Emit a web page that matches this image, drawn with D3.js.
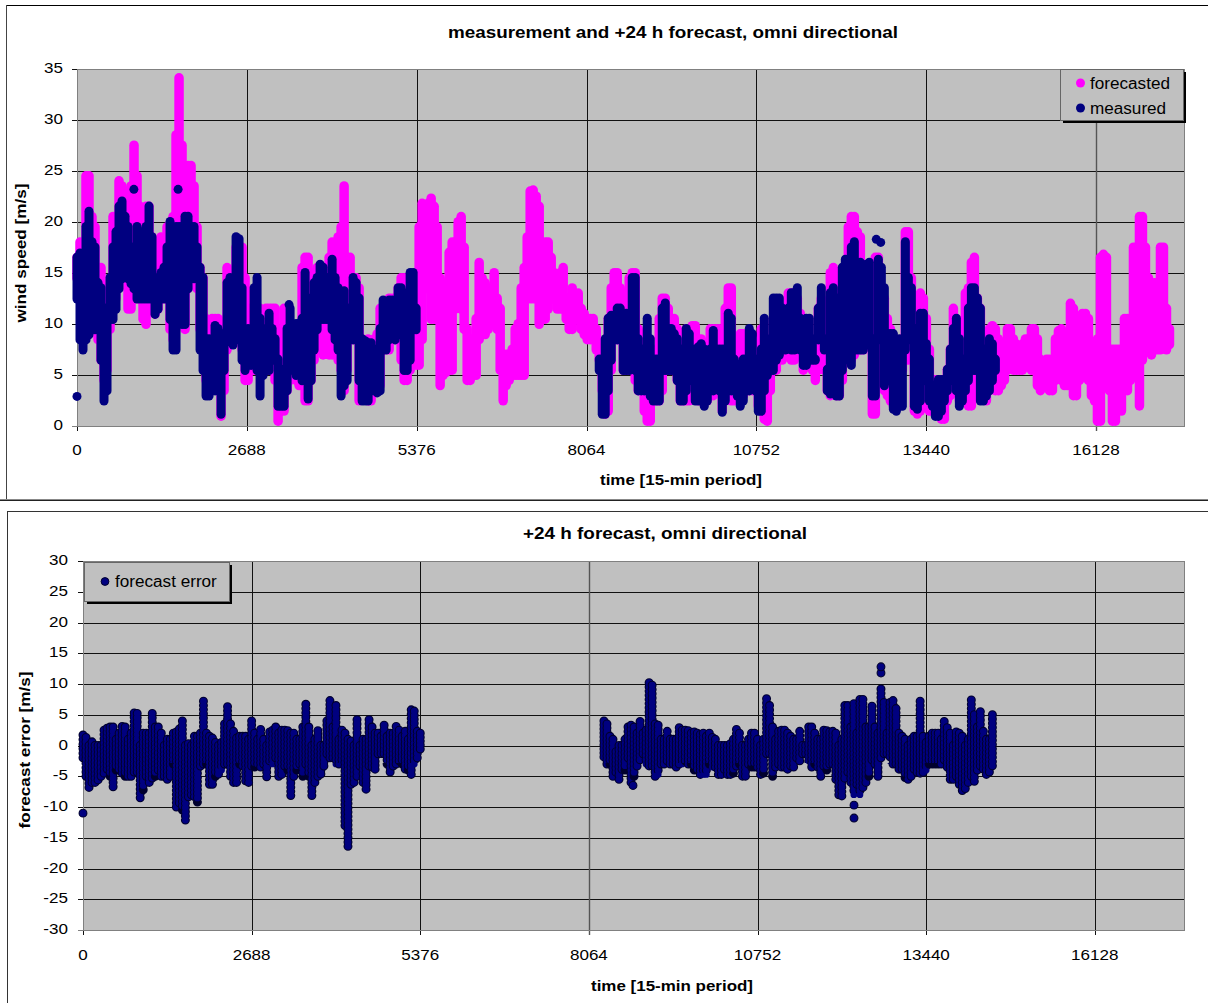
<!DOCTYPE html>
<html><head><meta charset="utf-8">
<script src="https://cdn.jsdelivr.net/npm/d3@7"></script>
<style>html,body{margin:0;padding:0;background:#fff}svg{display:block}text{font-family:"Liberation Sans",Arial,sans-serif;fill:#000}</style>
</head><body><svg id="c" width="1208" height="1003"></svg>
<script>
const STEP_SPEED = 47.5; // periods between read columns, upper chart
const STEP_ERROR = 48;   // periods between read columns, lower chart
const xTicks = [0,2688,5376,8064,10752,13440,16128];
const speedTicks = [0,5,10,15,20,25,30,35];
const errorTicks = [-30,-25,-20,-15,-10,-5,0,5,10,15,20,25,30];

const forecastHigh = [17,18.5,18.5,25,25,21,20,16,16,14,12,14,21,21,24.5,24,23.5,18,24,28,25,22,21,22,22,19,15,16,19,17,20,20,21,29,34.6,28,23,26,26,24,20,16,15,11,10,11,11,11,10,9,16,15,12,18,18,18,15,12,10,10,12,12,11,12,12,12,12,10,8,12,11,10,9,9,9,16,17,17,12,15.5,16,16,15,14,17,18.5,18,19,20,24,17,17,15,15,14,9,8,9,8,9,9.5,12,12,12.5,13,13,13,14,15,15,14.5,14,15,12,
20,22.3,22,22.3,22.8,22,20,15,14.5,9,17.5,18.5,18.5,20.5,21,18,10,9,9,11,16.5,15,14.5,14,14,15.5,13,12,7.5,7.5,7.5,8,10,10.5,14,16,19,23.5,23.6,23,22,17,18.5,18.5,17,15.5,15,15.5,16,13,13,14,13,13.5,12,11.5,11,11,11,10,8,7,6,
11,14,15.5,15.5,14,13,10,15,15.5,15.5,10,8,7,8,8,7,8,11,13,13,12,11,11,10,8,8,10,10,10.3,10.3,9,9,8,8,10,10,10,10,9,12,14,14,7,6,9.5,9.5,7,9,9,8,7,10,8,7,9,11,11,11,12,12,13.5,
13.5,13.5,13,11.5,11,10,9,7,7,12,13,8,9,15.5,16,14.5,14,13,14,20,21,21,19.5,19,15,14,12,12,17,17,12,13,11,10,9,8,8,9,19.5,19.5,15,13,13,13.5,13,11,8,5,5,4.5,5,5,6,8,12,11,10,10,13.5,14,16.5,17,13,12,9,9,10,10.3,10,9,6,7.5,10,10,9,8.5,8,8.5,9,9,10,10,9,7,6,7,7,6,9,9.8,10,9,9,12.5,12,11,11,11.5,11.5,11,8,7,9,17,17.3,17,8,8,8,8,8,11,11,10,18,18,21,21,18,15,14,14.5,14,18,18,12,10];
const forecastLow = [14,13,13,13,12,13,9,8,6,4,5,9,11,12,14,14,15,11,11,13,12,12,10,9.5,11,12,10.5,11,12,12,12,9,8,10,11,10,9,13,14,15,13,9,8,4,3,3,4,3,0.5,3,7,8,8,8,8,7,4,4,5,5,6,7,6,5,5,7,4,0,1,1,3,4,5,4,3.5,3.5,2,2,4,6,7,7,6.5,7,6.5,6.5,7,6,5,3,5,8,8,8,2,2.5,3,2,2,3,3,3.5,7,7,7,8,8,8,6,4,4,5,8,5.5,
5.5,8,13,13,10,10,10,3.5,4.5,4.8,5,5,11,12,11,9,4,4,4.5,4.5,8,9,8.5,9,9.5,10,9,5,2,3.5,4,4.5,4.5,4.5,4.5,4.5,12,12,12,12,9.5,10,10,11,12,13,11,11,11,10,9,9,10,10,9,8.5,8,8,8,7,6,3,0.7,
1,5,8,8,8,5,5,5,5,4,3,3,1,0,0,2,2,2,3,5,5,5,5,4,2,2,2,2,3,2.5,2,2,2,2,3,2.5,4,3,1,3,3,2,2,2,2,2.5,3,3,3,3,1.5,1,0.2,0,3,5,5,6,6,6.5,7,
6,6,7,7,5,6,5.5,5,4,5,6,5,3,2.5,3,2.5,2.5,4,6,6,6,6.5,7,7,7,8,8,0.7,0.7,5,5,3,2.5,2,1.5,1.5,3,5,6,6,8,1,0.7,1,4,4,1,1,1.5,0.7,0.2,0.2,2,2.5,3,3,2,2,2,1.5,1.5,3,5,5.5,2.5,2,3,3.5,3,3,3.5,4,5,6,5,5,5,5,6,6,5,5,3.5,3,3.5,3.5,3,3,4,5,4,3.5,3.5,4,2.5,2.5,4,5,5,4,2.5,2,0,0,4,5,3,0,0,2,1,3,3,4,5.5,8,1.5,6,7,7,6.5,7,7,7,7.5,7,7.5];

const measuredStartA = 0;
const measuredHighA = [17,17.4,17.3,20,21.5,18.5,18,14.5,14,12,12,15,18,19.5,22,22.5,21,20,18,18,20,19.5,18,20,22,19,15,14,15.5,16,18,20.5,19,20,20,20,21,21,20,20,18,16,15,9,9,8,10.3,10,9.5,9,14.5,15,12,19,18.8,14,9,10,9,14,15,11,9,10,11.5,10,9,7,6,5,10,12,10,10.5,10.5,11,15.5,11,13,14.5,15,16.3,16,15,15,16.8,15,14,13,13.7,12,12,15,14.5,13,9,8.8,8.6,8.6,8,7,10,12.8,12.5,12.8,12.8,12,14,14,13,13.5,15.5,15.5,12];
const measuredLowA = [12,8,7,8,8.5,12,9,9,6,2,3,10,10,11,13,14,16,14,13.5,13,12,12,12,12,12,12,10.5,11,12,12,12,10,7,7,11,9.5,9.5,13,14,14,14,7,5,2.5,2.5,3,3,3,0.7,5,8,7.8,7.5,8,8,6,5,5.5,5.5,6,5,2.5,4.5,5,5,6,6,1.5,1.5,1.5,3,5,5.5,4.5,6,4,4,2.2,4,7,9,10,10,10,10,9,8,7,2.5,3.5,4,8,8,8,4,2,2,2,3,4,2.8,3,7,7,8,9,8,8.5,8.5,5,5,6,9,9];
const measuredStartB = 174;
const measuredHighB = [7,7,9,11,11.3,10.5,12,12,11,11.5,11.5,15,15,9,8,8,11,9,7,7,7,12,12.5,10,10,9.5,9,8,8,10,9.5,7.5,8,8.2,8.5,8,6,8,9.8,8,8,8,8,11.5,11,7,6.5,6.5,7,7,10,9.5,7,6,8,11,8,9,13,13,13,12,11,12,13.5,13.5,14,11,9,11,11,9,7,12,14,9,6,13.5,14,13,13,16,16.8,14,18,18.5,16,16.5,16,16.3,16.5,9,9,16.8,16,14,9.5,9.5,9.5,8,9,8,18.5,15,14,10,10,11.5,11.5,8.5,7,4,4.5,5,5,5,6,8,10,11,9,7,7,12,14,14,13,12,8,8,9,8.5,7];
const measuredLowB = [5,0.7,0.7,3,6,8,8,8,5,5,5,7,5,3,3,3,3,2.5,2,2,2,5,5,5,5,5,4,2,2,3,4,4,2,2,2,1.5,2,3,3,4,3,0.9,2,3,3,3,2.5,1.5,2,3,3,4,3,1,1,3,4.5,5,5,6,6.5,7,7,8,7,7,8,7,5.5,5.5,6,6,6,8,8,7,3,2.7,3,2.5,2.5,5,7,6,5.5,7,7,7,7,7.5,8,2.5,2.5,8,8,3.5,4,4,1.2,1,1.5,1.5,7,8,8,1.5,1.2,2,4,4,2,1.5,0.5,0.5,1,2,3,4,5,3,1.5,2,3,4,5,5,5,2,2,2.5,3,4,5];
const loneSpeedTime = [0,900,1600,3356,12650,12720];
const loneSpeedValue = [2.9,23.2,23.2,11.9,18.3,18];

const errorStartA = 0;
const errorHighA = [1.7,1.3,0,0.6,0,0,0,2.5,2.8,3,3,1,2,3.1,3,1,2,5.3,5.2,0,2,2,2,5.2,3,3,2,0,1,1,2,2.2,2.7,4,0,0.3,0,1.5,1.5,2,7.2,2,1.5,1.2,0.5,0,0.5,3.5,6.3,3.5,2.3,1.2,1.5,1.5,1.5,1,4,2,1,2.6,1,0,2.2,2.5,3,2,2.5,2.5,2.4,2,2,1,1,3,6.7,3,0,1,2.4,0,0,4,7.3,3,6.5,1,2.5,2,1,0.7,0,4.2,0,1,1,4.2,3,2,2,1.5,3.3,1.5,2,2,3.1,2.5,1.5,2.3,1,5.8,5.6,2.3,2];
const errorLowA = [-2,-5,-7.5,-6,-6,-6.3,-5,-4.5,-4.5,-5,-6.7,-4,-4.5,-4.5,-5,-5,-5,-5,-5,-8.5,-7.2,-5,-6,-6,-5,-4,-5,-5,-5.5,-5,-3,-10,-10,-10.5,-12.8,-9,-8,-9,-9.2,-4,-3,-3,-7,-7,-5,-5.3,-4,-3,-3,-5,-6,-6,-3,-4,-6.4,-6,-4,-3.5,-3,-3.5,-3,-5.8,-2.5,-3,-2,-5,-4.7,-4,-4,-8.8,-5,-4,-3,-5,-3,-5,-8.8,-6,-5,-5.3,-4,-2,-2,-2,-3,-3,-3,-13,-16.4,-7,-6,-5,-4,-6,-7.1,-4,-3.5,-4.5,-2,-2,-2,-3,-4.3,-4,-3,-2.5,-3,-4.5,-4,-4.7,-3,-2,-1.2];
const errorStartB = 173;
const errorHighB = [4,3.5,1.5,1,-1,0,0,1,3,3.3,3,2,3.9,2,2.5,10.2,9.8,3.5,3.3,1,1,2.3,1,1,1,2.9,2.5,2.5,2.4,2,2.2,2,1.8,2,1.5,2,1.3,1,0,0,0,0,0.3,1,2.6,2,0,0,1,2,2,1,0,1,7.6,6.5,3,1,2.3,2.5,2.5,2,1.5,1,1,2.3,0,0,3,3,2,1,1,2.5,2.4,2.2,2.3,2,0,1,6.5,6.5,3,6.8,2,7.5,7.5,3,3,6.4,3,2,9.2,7,2,7,7.3,6,2,1.5,1,0,1,1.5,1.5,7.2,1.5,0.5,1.5,2,2,2,1,3.9,2.9,2,0,2.2,2,1.5,0,1,7.4,5,3,5.5,2.3,1,1,5,2.5];
const errorLowB = [-2.5,-3,-3,-5,-5,-5.5,-4.5,-4,-2,-6,-5,-4,-3,-2,-3,-4,-4,-5,-4.7,-3,-3,-2.5,-3,-3,-3.5,-3,-3,-2.5,-3,-3,-4,-4.5,-4.7,-4.7,-4.7,-3,-3.5,-3.5,-4.7,-4.7,-4.5,-4.7,-4.7,-4.5,-4,-3,-5.7,-5.7,-3,-3.5,-3.5,-3.5,-4.7,-4.5,-2,-2,-5,-3.5,-3,-3.5,-3.5,-4.5,-4,-3.5,-2,-2.5,-2,-2,-2.5,-3.5,-3,-3.5,-5,-4,-4,-3,-3,-5.5,-8,-8.2,-6,-5,-6,-8,-7,-8,-7.5,-6,-5,-3,-3,-5,-2,-2,-2,-2.5,-3,-3,-4.5,-4.5,-5.2,-5.5,-5,-4.5,-5,-4.5,-5,-4,-3,-3,-3,-3,-3,-3,-3.5,-5.5,-5.5,-5,-7,-8,-7.7,-6,-5,-6.5,-4,-4,-4.5,-4.7,-4.3,-4];
const loneErrorTime = [0,8767,12290,12290,12720,12720];
const loneErrorValue = [-11,-6.5,-9.7,-11.8,11.8,12.8];

const svg = d3.select('#c');
const NAVY = '#000080', PINK = '#ff00ff', OUTLINE = '#00002e';

// stretch real text to the wider set width of the original
function stretch(sel,factor,target){
  sel.each(function(){
    const w = target || this.getComputedTextLength()*factor;
    d3.select(this).attr('textLength',w).attr('lengthAdjust','spacingAndGlyphs');
  });
  return sel;
}

function frame(x,y,w,h,col){ svg.append('rect').attr('x',x+.5).attr('y',y+.5).attr('width',w).attr('height',h).attr('fill','#fff').attr('stroke',col).attr('stroke-width',1); }
frame(6,5,1204,494,'#000');
svg.append('rect').attr('x',6).attr('y',5).attr('width',1).attr('height',494).attr('fill','#444');
svg.append('rect').attr('x',0).attr('y',499).attr('width',1208).attr('height',1).attr('fill','#888');
svg.append('rect').attr('x',0).attr('y',500).attr('width',1208).attr('height',1).attr('fill','#222');
frame(7,511,1203,494,'#333');

function plot(o){
  const x = d3.scaleLinear().domain([0,o.xMax]).range([o.left,o.right]);
  const y = d3.scaleLinear().domain(o.yDom).range([o.bottom,o.top]);
  const g = svg.append('g');
  g.append('rect').attr('x',o.left).attr('y',o.top).attr('width',o.right-o.left).attr('height',o.bottom-o.top).attr('fill','#c0c0c0');
  g.selectAll('.gy').data(o.yTicks).join('line').attr('x1',o.left-5).attr('x2',o.right)
    .attr('y1',d=>Math.round(y(d))+.5).attr('y2',d=>Math.round(y(d))+.5).attr('stroke',d=>d===o.yDom[0]?'#808080':'#111').attr('stroke-width',1);
  g.selectAll('.gx').data(xTicks).join('line').attr('x1',d=>Math.round(x(d))+.5).attr('x2',d=>Math.round(x(d))+.5)
    .attr('y1',o.top).attr('y2',o.bottom+5).attr('stroke',d=>d===o.greyTick?'#555':'#111').attr('stroke-width',d=>d===o.greyTick?1.4:1);
  g.append('rect').attr('x',o.left+.5).attr('y',o.top+.5).attr('width',o.right-o.left).attr('height',o.bottom-o.top).attr('fill','none').attr('stroke','#808080').attr('stroke-width',1);
  stretch(g.selectAll('.ly').data(o.yTicks).join('text').attr('x',o.tickRight).attr('y',d=>y(d)+4.2).attr('text-anchor','end').attr('font-size',15.5).attr('fill','#1a1a1a').text(d=>d),1.1);
  stretch(g.selectAll('.lx').data(xTicks).join('text').attr('x',d=>x(d)).attr('y',o.bottom+o.xLabelDy).attr('text-anchor','middle').attr('font-size',15.5).attr('fill','#1a1a1a').text(d=>d),1.1);
  stretch(svg.append('text').attr('x',o.titleX).attr('y',o.titleY).attr('text-anchor','middle').attr('font-size',17).attr('font-weight','bold').text(o.title),1,o.titleW);
  stretch(svg.append('text').attr('x',o.xtX).attr('y',o.xtY).attr('text-anchor','middle').attr('font-size',15).attr('font-weight','bold').text('time [15-min period]'),1,162);
  stretch(svg.append('text').attr('transform',`translate(${o.ytX},${o.ytY}) rotate(-90)`).attr('text-anchor','middle').attr('font-size',15).attr('font-weight','bold').text(o.yTitle),1,o.ytW);
  return {x,y,g};
}

const p1 = plot({left:77,right:1184,top:69,bottom:426,xMax:17520,yDom:[0,35],yTicks:speedTicks,greyTick:16128,xLabelDy:29,tickRight:63,
  title:'measurement and +24 h forecast, omni directional',titleX:673,titleY:38,titleW:450,xtX:681,xtY:484.5,ytX:26,ytY:253,ytW:139,yTitle:'wind speed [m/s]'});
const p2 = plot({left:83,right:1184,top:561,bottom:930,xMax:17550,yDom:[-30,30],yTicks:errorTicks,greyTick:8064,xLabelDy:30,tickRight:68,
  title:'+24 h forecast, omni directional',titleX:665,titleY:539,titleW:284,xtX:672,xtY:990.5,ytX:30,ytY:750,ytW:157,yTitle:'forecast error [m/s]'});

const col = d3.line();
function columns(p,hi,lo,start,step,r){
  return hi.map((h,i)=>{
    const X = p.x((start+i)*step);
    let a=p.y(h)+r, b=p.y(lo[i])-r;
    if(b<a){a=b=(a+b)/2;}
    return [[X,a],[X,b]];
  });
}
function solid(p,hi,lo,start,color,w){
  p.g.selectAll(null).data(columns(p,hi,lo,start,STEP_SPEED,w/2)).join('path')
    .attr('d',col).attr('fill','none').attr('stroke',color).attr('stroke-width',w).attr('stroke-linecap','round');
}
solid(p1,forecastHigh,forecastLow,0,PINK,9.5);
solid(p1,measuredHighA,measuredLowA,measuredStartA,NAVY,9);
solid(p1,measuredHighB,measuredLowB,measuredStartB,NAVY,9);
p1.g.selectAll(null).data(loneSpeedTime).join('circle').attr('cx',d=>p1.x(d)).attr('cy',(d,i)=>p1.y(loneSpeedValue[i])).attr('r',4.5).attr('fill',NAVY);

function scaled(p,hi,lo,start){
  columns(p,hi,lo,start,STEP_ERROR,0).forEach(c=>{
    const d = col(c), len = c[1][1]-c[0][1];
    const gap = len>0 ? len/Math.max(1,Math.round(len/4.2)) : 1;
    p.g.append('path').attr('d',d).attr('fill','none').attr('stroke',OUTLINE).attr('stroke-width',9).attr('stroke-linecap','round').attr('stroke-dasharray',`0 ${gap}`);
    p.g.append('path').attr('d',d).attr('fill','none').attr('stroke',NAVY).attr('stroke-width',6.8).attr('stroke-linecap','round').attr('stroke-dasharray',`0 ${gap}`);
  });
}
scaled(p2,errorHighA,errorLowA,errorStartA);
scaled(p2,errorHighB,errorLowB,errorStartB);
p2.g.selectAll(null).data(loneErrorTime).join('circle').attr('cx',d=>p2.x(d)).attr('cy',(d,i)=>p2.y(loneErrorValue[i])).attr('r',3.9).attr('fill',NAVY).attr('stroke',OUTLINE).attr('stroke-width',1.1);

function legend(x,y,w,h,items,fs){
  svg.append('rect').attr('x',x+3).attr('y',y+3).attr('width',w).attr('height',h).attr('fill','#000');
  svg.append('rect').attr('x',x+.5).attr('y',y+.5).attr('width',w).attr('height',h).attr('fill','#c0c0c0').attr('stroke','#666');
  items.forEach(it=>{
    svg.append('circle').attr('cx',it.cx).attr('cy',it.cy).attr('r',it.r).attr('fill',it.color).attr('stroke',it.stroke||'none');
    stretch(svg.append('text').attr('x',it.tx).attr('y',it.cy+5.5).attr('font-size',fs).attr('fill','#111').text(it.label),1.07);
  });
}
legend(1060,69,123,51,[{cx:1080.5,cy:83,r:4.5,color:PINK,tx:1090,label:'forecasted'},{cx:1080.5,cy:108,r:4.5,color:NAVY,tx:1090,label:'measured'}],16);
legend(84,562,145,39,[{cx:105,cy:581.5,r:3.9,color:NAVY,stroke:OUTLINE,tx:115,label:'forecast error'}],16);
</script></body></html>
